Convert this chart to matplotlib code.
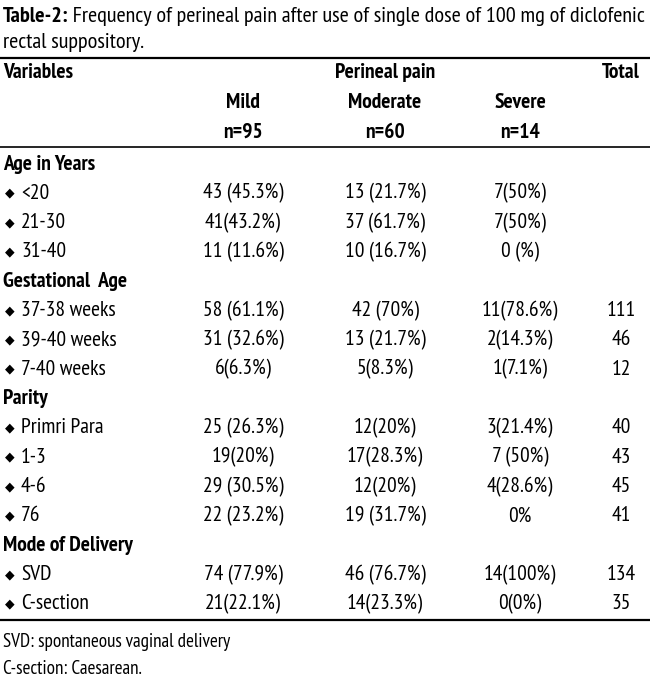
import matplotlib
matplotlib.use("Agg")
import matplotlib.pyplot as plt

# ── DATA ───────────────────────────────────────────────────────────────────────
TITLE_BOLD = "Table-2:"
TITLE_REST = " Frequency of perineal pain after use of single dose of 100 mg of diclofenic"
TITLE_LINE2 = "rectal suppository."

COL_HEADS = ["Mild", "Moderate", "Severe"]
COL_NS    = ["n=95", "n=60", "n=14"]

groups = ["Age in Years", "Gestational  Age", "Parity", "Mode of Delivery"]
labels = [
    ["<20", "21-30", "31-40"],
    ["37-38 weeks", "39-40 weeks", "7-40 weeks"],
    ["Primri Para", "1-3", "4-6", "76"],
    ["SVD", "C-section"],
]
mild = [
    ["43 (45.3%)", "41(43.2%)", "11 (11.6%)"],
    ["58 (61.1%)", "31 (32.6%)", "6(6.3%)"],
    ["25 (26.3%)", "19(20%)", "29 (30.5%)", "22 (23.2%)"],
    ["74 (77.9%)", "21(22.1%)"],
]
moderate = [
    ["13 (21.7%)", "37 (61.7%)", "10 (16.7%)"],
    ["42 (70%)", "13 (21.7%)", "5(8.3%)"],
    ["12(20%)", "17(28.3%)", "12(20%)", "19 (31.7%)"],
    ["46 (76.7%)", "14(23.3%)"],
]
severe = [
    ["7(50%)", "7(50%)", "0 (%)"],
    ["11(78.6%)", "2(14.3%)", "1(7.1%)"],
    ["3(21.4%)", "7 (50%)", "4(28.6%)", "0%"],
    ["14(100%)", "0(0%)"],
]
total = [
    ["", "", ""],
    ["111", "46", "12"],
    ["40", "43", "45", "41"],
    ["134", "35"],
]
FOOTNOTES = ["SVD: spontaneous vaginal delivery", "C-section: Caesarean."]

# ── LAYOUT ─────────────────────────────────────────────────────────────────────
W, H = 650, 682
FAM = ["PT Sans Narrow", "DejaVu Sans"]
FS = 15.5
COL_X = [243, 385, 520, 621]
ROW0, STEP = 162, 29.33
DY = 2   # text baseline nudge

fig = plt.figure(figsize=(W / 100, H / 100), dpi=100, facecolor="white")
ax = fig.add_axes([0, 0, 1, 1])
ax.set_xlim(0, W)
ax.set_ylim(H, 0)
ax.axis("off")


def txt(x, y, s, ha="left", bold=False, size=FS):
    return ax.text(x, y + DY, s, ha=ha, va="center", fontsize=size, family=FAM,
                   fontweight="bold" if bold else "normal", color="black")


# title (runs off the right edge, as in the source)
t = txt(3, 14, TITLE_BOLD, bold=True, size=16)
fig.canvas.draw()
bb = t.get_window_extent()
txt(bb.x1, 14, TITLE_REST, size=16)
txt(3, 41, TITLE_LINE2, size=16)

# rules
ax.plot([0, W], [58, 58], color="black", lw=1.6)
ax.plot([0, W], [147, 147], color="black", lw=1.2)
ax.plot([0, W], [620, 620], color="black", lw=1.6)

# header
txt(3, 71, "Variables", bold=True)
txt(COL_X[1], 71, "Perineal pain", ha="center", bold=True)
txt(COL_X[3], 71, "Total", ha="center", bold=True)
for x, h, n in zip(COL_X[:3], COL_HEADS, COL_NS):
    txt(x, 100, h, ha="center", bold=True)
    txt(x, 130, n, ha="center", bold=True)

# body
r = 0
for g, labs, a, b, c, d in zip(groups, labels, mild, moderate, severe, total):
    y = ROW0 + r * STEP
    txt(3, y, g, bold=True)
    r += 1
    for lab, v1, v2, v3, v4 in zip(labs, a, b, c, d):
        y = ROW0 + r * STEP
        ax.text(10, y + DY, "\u25c6", ha="center", va="center", fontsize=9,
                family=["DejaVu Sans"], color="black")
        txt(21, y, lab)
        for x, v in zip(COL_X, (v1, v2, v3, v4)):
            txt(x, y, v, ha="center")
        r += 1

# footnotes
txt(3, 640, FOOTNOTES[0], size=13.8)
txt(3, 667, FOOTNOTES[1], size=13.8)

fig.savefig("out.png", dpi=100, facecolor="white")
plt.close(fig)
